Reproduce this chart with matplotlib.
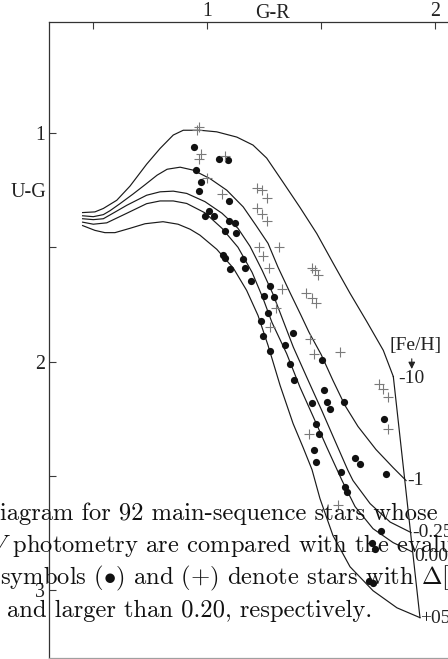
import matplotlib
matplotlib.use("Agg")
import matplotlib.pyplot as plt

# ---- iso-metallicity lines, (G-R, U-G) ----
fe_labels = ["-10", "-1", "-0.25", "0.00", "+05"]

gr_m10 = [0.453, 0.507, 0.544, 0.603, 0.661, 0.734, 0.793, 0.851, 0.895, 0.968, 1.042,
          1.130, 1.201, 1.261, 1.333, 1.407, 1.481, 1.554, 1.627, 1.700, 1.773, 1.817]
ug_m10 = [1.347, 1.344, 1.329, 1.293, 1.231, 1.135, 1.066, 1.007, 0.986, 0.986, 0.993,
          1.016, 1.051, 1.108, 1.214, 1.324, 1.439, 1.571, 1.701, 1.824, 1.951, 2.066]

gr_m1 = [0.453, 0.500, 0.544, 0.573, 0.617, 0.674, 0.727, 0.780, 0.824, 0.881, 0.939, 1.012,
         1.086, 1.158, 1.214, 1.267, 1.311, 1.363, 1.412, 1.447, 1.500, 1.552, 1.605, 1.662,
         1.741, 1.816, 1.873]
ug_m1 = [1.361, 1.365, 1.356, 1.339, 1.308, 1.266, 1.225, 1.183, 1.157, 1.148, 1.161, 1.198,
         1.249, 1.322, 1.403, 1.482, 1.587, 1.697, 1.798, 1.872, 1.969, 2.083, 2.193, 2.285,
         2.386, 2.465, 2.522]

gr_m025 = [0.453, 0.500, 0.544, 0.595, 0.647, 0.734, 0.793, 0.851, 0.910, 0.990, 1.065, 1.135,
           1.188, 1.241, 1.289, 1.333, 1.378, 1.437, 1.503, 1.554, 1.618, 1.640, 1.715, 1.803,
           1.895]
ug_m025 = [1.374, 1.378, 1.374, 1.345, 1.315, 1.271, 1.256, 1.253, 1.263, 1.299, 1.350, 1.416,
           1.495, 1.600, 1.705, 1.820, 1.937, 2.069, 2.215, 2.332, 2.478, 2.522, 2.623, 2.704,
           2.750]

gr_0 = [0.453, 0.500, 0.559, 0.647, 0.734, 0.793, 0.851, 0.910, 0.990, 1.065, 1.135, 1.197,
        1.245, 1.284, 1.349, 1.407, 1.473, 1.525, 1.574, 1.592, 1.649, 1.728, 1.816, 1.899]
ug_0 = [1.389, 1.398, 1.392, 1.350, 1.308, 1.296, 1.296, 1.307, 1.348, 1.416, 1.499, 1.609,
        1.723, 1.828, 1.966, 2.112, 2.259, 2.376, 2.483, 2.522, 2.636, 2.733, 2.794, 2.834]

gr_p05 = [0.453, 0.507, 0.551, 0.595, 0.661, 0.727, 0.806, 0.872, 0.925, 0.968, 1.042, 1.115,
          1.173, 1.223, 1.267, 1.320, 1.377, 1.421, 1.460, 1.495, 1.552, 1.627, 1.728, 1.833,
          1.934]
ug_p05 = [1.404, 1.425, 1.435, 1.435, 1.416, 1.396, 1.387, 1.398, 1.420, 1.446, 1.508, 1.591,
          1.688, 1.798, 1.929, 2.105, 2.272, 2.377, 2.474, 2.601, 2.763, 2.900, 3.005, 3.080,
          3.123]

# red edge joining the ends of the lines
edge_gr = [1.817, 1.934]
edge_ug = [2.066, 3.123]

# where the [Fe/H] values are written
lab_gr = [1.838, 1.876, 1.898, 1.908, 1.934]
lab_ug = [2.074, 2.522, 2.750, 2.853, 3.126]

# ---- stars ----
# small metallicity difference (filled dots)
dot_gr = [0.942, 1.052, 1.090, 0.950, 0.971, 0.963, 1.097, 1.009, 0.989, 1.031, 1.097, 1.122,
          1.077, 1.128, 1.068, 1.079, 1.156, 1.100, 1.166, 1.191, 1.274, 1.249, 1.293, 1.267,
          1.236, 1.246, 1.276, 1.378, 1.342, 1.503, 1.363, 1.382, 1.513, 1.459, 1.524, 1.539,
          1.601, 1.778, 1.476, 1.492, 1.469, 1.478, 1.649, 1.669, 1.787, 1.589, 1.605, 1.615,
          1.763, 1.723, 1.738, 1.712, 1.727]
dot_ug = [1.061, 1.110, 1.117, 1.162, 1.215, 1.253, 1.296, 1.340, 1.362, 1.362, 1.384, 1.392,
          1.429, 1.436, 1.534, 1.544, 1.552, 1.593, 1.590, 1.647, 1.669, 1.714, 1.717, 1.786,
          1.824, 1.887, 1.954, 1.877, 1.929, 1.995, 2.010, 2.080, 2.127, 2.183, 2.177, 2.207,
          2.177, 2.251, 2.273, 2.317, 2.390, 2.442, 2.422, 2.450, 2.493, 2.483, 2.551, 2.573,
          2.742, 2.796, 2.822, 2.964, 2.970]

# large metallicity difference (+)
plus_gr = [0.954, 0.964, 0.971, 0.964, 1.078, 0.998, 1.064, 1.217, 1.239, 1.261, 1.217, 1.239,
           1.261, 1.229, 1.317, 1.246, 1.273, 1.327, 1.302, 1.276, 1.460, 1.475, 1.488, 1.434,
           1.459, 1.479, 1.451, 1.471, 1.581, 1.752, 1.772, 1.795, 1.794, 1.447, 1.576]
plus_ug = [0.986, 0.971, 1.088, 1.114, 1.100, 1.195, 1.266, 1.239, 1.246, 1.283, 1.325, 1.354,
           1.384, 1.500, 1.498, 1.539, 1.588, 1.682, 1.766, 1.848, 1.588, 1.600, 1.619, 1.700,
           1.722, 1.743, 1.900, 1.967, 1.959, 2.098, 2.121, 2.155, 2.294, 2.318, 2.627]

caption = [
    "iagram for 92 main-sequence stars whose",
    "$V$ photometry are compared with the evaluated",
    r"symbols ($\bullet$) and ($+$) denote stars with $\Delta[M/H]$",
    "and larger than 0.20, respectively.",
]

plt.rcParams['font.family'] = 'Liberation Serif'
plt.rcParams['mathtext.fontset'] = 'cm'

W, H = 448, 659
fig = plt.figure(figsize=(W / 100, H / 100), dpi=100)
# plot box: left spine at x=49px, top spine at y=22px, right side runs off the page
ax = fig.add_axes([49.3 / W, 1 / H, (470.4 - 49.3) / W, 636 / H])
ax.set_xlim(0.3068, 2.1554)
ax.set_ylim(3.300, 0.5114)

curves = [(gr_m10, ug_m10), (gr_m1, ug_m1), (gr_m025, ug_m025), (gr_0, ug_0), (gr_p05, ug_p05)]
for gr, ug in curves:
    ax.plot(gr, ug, color='#1a1a1a', lw=0.85)
ax.plot(edge_gr, edge_ug, color='#1a1a1a', lw=0.85)

ax.plot(dot_gr, dot_ug, 'o', color='#111111', ms=5.2, mec='none')
ax.plot(plus_gr, plus_ug, '+', color='#7a7a7a', ms=6.5, mew=0.8)

for lab, x, y in zip(fe_labels, lab_gr, lab_ug):
    ax.text(x, y, lab, fontsize=14, ha='left', va='center', color='#222222')

ax.text(1.802, 1.929, "[Fe/H]", fontsize=14, ha='left', va='center', color='#222222')
ax.annotate('', xy=(1.898, 2.045), xytext=(1.898, 1.976),
            arrowprops=dict(arrowstyle='-|>', color='#222222', lw=0.8, mutation_scale=10))

# axes: ticks inward, labels on top and left
ax.xaxis.tick_top()
ax.set_xticks([1, 2])
ax.set_xticks([0.5, 1.5], minor=True)
ax.set_yticks([1, 2, 3])
ax.set_yticks([1.5, 2.5], minor=True)
ax.tick_params(which='both', direction='in', length=5.3, width=0.8, color='#3a3a3a',
               labelsize=14.3, labelcolor='#222222')
ax.tick_params(axis='x', which='both', pad=0.5)
ax.tick_params(axis='y', which='both', pad=3)
ax.spines['right'].set_visible(False)
ax.spines['left'].set_color('#333333')
ax.spines['top'].set_color('#333333')
ax.spines['bottom'].set_color('#a0a0a0')
for s in ['left', 'top', 'bottom']:
    ax.spines[s].set_linewidth(0.9)

fig.text(272 / W, 1 - 13 / H, "G-R", fontsize=14.5, ha='center', va='center', color='#222222')
fig.text(28.5 / W, 1 - 192.7 / H, "U-G", fontsize=14.5, ha='center', va='center', color='#222222')

# caption text printed across the lower part of the scan
cap_x = [0.0, -10.0, 0.0, 7.0]
cap_base = [520.0, 552.0, 584.0, 616.5]
for txt, cx, cy in zip(caption, cap_x, cap_base):
    fig.text(cx / W, 1 - cy / H, txt, family='cmr10', fontsize=17.7,
             ha='left', va='baseline', color='#111111')

fig.savefig("out.png", dpi=100)
